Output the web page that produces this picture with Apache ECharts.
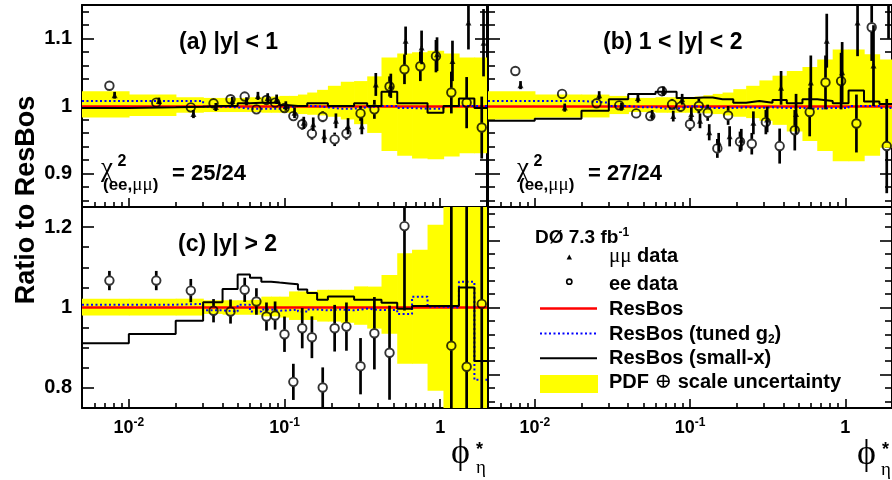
<!DOCTYPE html>
<html><head><meta charset="utf-8">
<script src="https://cdn.jsdelivr.net/npm/echarts@6/dist/echarts.min.js"></script>
<style>html,body{margin:0;padding:0;background:#fff}#c{width:892px;height:480px}</style>
</head><body><div id="c"></div>
<script>
const SANS = '"Liberation Sans", Arial, Helvetica, sans-serif';
const SERIF = '"Liberation Serif", "DejaVu Serif", serif';

// ---------------- axis ranges and ticks ----------------
const xMin = 0.005, xMax = 2;
const xMajor = [0.01, 0.1, 1];
const xMajorLabels = [['10', '-2'], ['10', '-1'], ['1', '']];
const xMinor = [0.006, 0.007, 0.008, 0.009, 0.02, 0.03, 0.04, 0.05, 0.06, 0.07, 0.08, 0.09,
                0.2, 0.3, 0.4, 0.5, 0.6, 0.7, 0.8, 0.9, 2];
const topRange = [0.85, 1.15];
const topMajor = [0.9, 1, 1.1];
const topMajorLabels = ['0.9', '1', '1.1'];
const topMinor = [0.86, 0.88, 0.92, 0.94, 0.96, 0.98, 1.02, 1.04, 1.06, 1.08, 1.12, 1.14];
const botRange = [0.75, 1.25];
const botMajor = [0.8, 1, 1.2];
const botMajorLabels = ['0.8', '1', '1.2'];
const botMinor = [0.75, 0.85, 0.9, 0.95, 1.05, 1.1, 1.15, 1.25];

// ---------------- theory bin edges ----------------
const edges = [0.005, 0.01, 0.02, 0.03, 0.04, 0.05, 0.06, 0.071, 0.082, 0.093, 0.107, 0.122, 0.14,
               0.162, 0.19, 0.23, 0.28, 0.34, 0.42, 0.53, 0.66, 0.83, 1.05, 1.32, 1.66, 2.0];
const resbosRatio = 1;

// ---------------- data x positions ----------------
const phiEe = [0.0075, 0.015, 0.025, 0.035, 0.045, 0.0555, 0.066, 0.0766, 0.087, 0.1, 0.114, 0.13, 0.15,
               0.176, 0.21, 0.25, 0.308, 0.378, 0.473, 0.59, 0.746, 0.94, 1.18, 1.48, 1.85];
const phiMm = [0.0081, 0.0156, 0.026, 0.0362, 0.0462, 0.057, 0.0675, 0.078, 0.089, 0.102, 0.116, 0.133, 0.153,
               0.18, 0.214, 0.256, 0.314, 0.386, 0.482, 0.6, 0.76, 0.955, 1.2, 1.52, 1.9];

// ---------------- panel (a) |y|<1 ----------------
const aEe = [1.030, 1.005, 0.998, 1.004, 1.010, 1.014, 0.995, 1.009, 1.005, 0.997, 0.985, 0.973, 0.959,
             0.984, 0.9505, 0.959, 0.989, 0.995, 1.029, 1.0545, 1.059, 1.074, 1.020, 1.005, 0.968];
const aEeErr = [0.004, 0.004, 0.005, 0.005, 0.005, 0.005, 0.005, 0.005, 0.006, 0.006, 0.007, 0.008, 0.009,
                0.008, 0.010, 0.009, 0.011, 0.014, 0.015, 0.022, 0.022, 0.024, 0.031, 0.038, 0.046];
const aMm = [1.016, 1.0075, 0.988, 0.9985, 1.0075, 1.007, 1.015, 1.012, 1.010, 1.0, 0.990, 0.975, 0.973,
             0.955, 0.978, 0.970, 0.970, 1.032, 1.030, 1.097, 1.087, 1.077, 1.067, 1.124, 1.094];
const aMmErr = [0.005, 0.005, 0.006, 0.006, 0.006, 0.006, 0.006, 0.007, 0.007, 0.007, 0.008, 0.009, 0.010,
                0.010, 0.011, 0.012, 0.012, 0.017, 0.018, 0.021, 0.025, 0.025, 0.030, 0.040, 0.050];
const aBandLo = [0.983, 0.985, 0.990, 0.991, 0.991, 0.991, 0.991, 0.990, 0.990, 0.990, 0.990, 0.988, 0.987,
                 0.986, 0.984, 0.980, 0.973, 0.960, 0.933, 0.926, 0.922, 0.921, 0.925, 0.930, 0.930];
const aBandHi = [1.022, 1.017, 1.013, 1.012, 1.012, 1.012, 1.013, 1.013, 1.014, 1.015, 1.015, 1.017, 1.020,
                 1.024, 1.030, 1.036, 1.037, 1.044, 1.072, 1.078, 1.080, 1.082, 1.078, 1.072, 1.072];
const aSmallX = [0.997, 0.998, 0.999, 1.0, 1.0, 1.004, 1.005, 1.005, 1.005, 1.001, 1.0, 1.0, 1.004,
                 1.004, 1.0, 1.0, 1.004, 1.0, 1.021, 1.004, 1.004, 0.990, 1.0, 1.011, 0.997];
const aTuned = [1.0075, 1.0075, 1.0075, 0.999, 0.998, 0.996, 0.996, 0.996, 0.996, 0.998, 1.0, 1.0, 1.0,
                0.998, 0.996, 0.996, 0.998, 1.0, 1.0, 0.997, 0.996, 0.996, 1.0, 1.0, 1.0];

// ---------------- panel (b) 1<|y|<2 ----------------
const bEe = [1.052, 1.018, 1.004, 1.001, 0.989, 0.985, 1.022, 1.0025, 0.999, 0.973, 1.0, 0.990, 0.937,
             0.986, 0.947, 0.944, 0.976, 0.9405, 0.964, 0.991, 1.035, 1.037, 0.974, 1.117, 0.9405];
const bEeErr = [0.005, 0.005, 0.005, 0.006, 0.006, 0.007, 0.007, 0.008, 0.008, 0.010, 0.011, 0.012, 0.014,
                0.014, 0.015, 0.016, 0.018, 0.026, 0.030, 0.036, 0.040, 0.042, 0.043, 0.050, 0.070];
const bMm = [1.031, 0.9976, 1.016, 0.999, 1.012, 0.987, 1.022, 0.985, 1.010, 0.988, 0.978, 0.961, 0.946,
             0.955, 0.950, 0.975, 0.980, 1.027, 0.988, 1.035, 1.097, 1.050, 1.124, 1.060, 1.170];
const bMmErr = [0.006, 0.006, 0.006, 0.006, 0.007, 0.007, 0.007, 0.008, 0.008, 0.010, 0.011, 0.012, 0.014,
                0.015, 0.016, 0.017, 0.019, 0.025, 0.030, 0.040, 0.040, 0.045, 0.050, 0.060, 0.070];
const bBandLo = [0.980, 0.983, 0.983, 0.988, 0.991, 0.991, 0.990, 0.990, 0.990, 0.990, 0.990, 0.989, 0.988,
                 0.986, 0.984, 0.982, 0.978, 0.972, 0.962, 0.948, 0.933, 0.918, 0.918, 0.926, 0.938];
const bBandHi = [1.022, 1.017, 1.017, 1.015, 1.012, 1.012, 1.013, 1.013, 1.013, 1.013, 1.014, 1.016, 1.018,
                 1.020, 1.025, 1.030, 1.038, 1.045, 1.052, 1.058, 1.069, 1.084, 1.084, 1.077, 1.069];
const bSmallX = [0.978, 0.981, 0.993, 1.010, 1.018, 1.018, 1.021, 1.021, 1.012, 1.012, 1.0125, 1.0125, 1.010,
                 1.010, 1.005, 1.0075, 1.005, 1.009, 1.004, 1.010, 1.0075, 1.004, 1.023, 1.0065, 1.003];
const bTuned = [1.0075, 1.0075, 1.005, 1.0, 0.998, 0.998, 0.996, 0.996, 0.998, 1.0, 0.998, 0.997, 0.997,
                0.997, 0.998, 0.997, 0.998, 0.997, 0.997, 0.996, 0.997, 0.997, 1.0, 1.0, 0.997];

// ---------------- panel (c) |y|>2 ----------------
const cEe = [1.067, 1.067, 1.042, 0.992, 0.990, 1.044, 1.015, 0.9775, 0.980, 0.9335, 0.815, 0.9485, 0.926,
             0.801, 0.9485, 0.9525, 0.854, 0.936, 0.8875, 1.2025, null, null, 0.905, 0.8525, 1.009];
const cEeErr = [0.024, 0.024, 0.029, 0.029, 0.030, 0.030, 0.033, 0.035, 0.035, 0.044, 0.045, 0.050, 0.052,
                0.050, 0.058, 0.060, 0.070, 0.090, 0.117, 0.210, null, null, 0.500, 0.500, 0.500];
const cBandLo = [0.980, 0.980, 0.980, 0.984, 0.982, 0.982, 0.982, 0.978, 0.978, 0.975, 0.969, 0.969, 0.969,
                 0.965, 0.965, 0.962, 0.957, 0.9475, 0.935, 0.860, 0.860, 0.793, 0.70, 0.70, 0.70];
const cBandHi = [1.022, 1.022, 1.022, 1.018, 1.018, 1.018, 1.019, 1.027, 1.027, 1.027, 1.040, 1.040, 1.040,
                 1.044, 1.044, 1.044, 1.0525, 1.052, 1.081, 1.135, 1.1435, 1.206, 1.30, 1.30, 1.30];
const cSmallX = [0.911, 0.934, 0.967, 1.013, 1.046, 1.082, 1.074, 1.064, 1.062, 1.060, 1.058, 1.045, 1.036,
                 1.019, 1.0275, 1.0275, 1.019, 1.019, 1.012, 0.997, 1.004, 1.004, 1.004, 1.050, 0.867];
const cTuned = [1.007, 1.007, 1.009, 0.993, 0.990, 1.007, 0.990, 0.995, 0.992, 0.993, 0.995, 0.990, 0.995,
                0.993, 0.995, 0.993, 0.997, 0.9935, 0.9935, 0.984, 1.027, 1.002, 1.0, 1.064, 0.820];

// ---------------- builders ----------------
function stepData(vals) {
  const d = vals.map((v, i) => [edges[i], v]);
  d.push([edges[edges.length - 1], vals[vals.length - 1]]);
  return d;
}
function bandData(lo, hi) { return lo.map((l, i) => [edges[i], edges[i + 1], l, hi[i]]); }
function pts(x, y, e) {
  const d = [];
  x.forEach((xi, i) => { if (y[i] != null) d.push([xi, y[i], e[i]]); });
  return d;
}
function renderBand(params, api) {
  const a = api.coord([api.value(0), api.value(3)]);
  const b = api.coord([api.value(1), api.value(2)]);
  return { type: 'rect', shape: { x: a[0], y: a[1], width: b[0] - a[0] + 0.7, height: b[1] - a[1] },
           style: { fill: '#ffff00' } };
}
function makeErr(gap) {
  return function (params, api) {
    const x = api.value(0), y = api.value(1), e = api.value(2);
    const c = api.coord([x, y]), t = api.coord([x, y + e]), b = api.coord([x, y - e]);
    const st = { stroke: '#000', lineWidth: 2.7 };
    const ch = [];
    if (t[1] < c[1] - gap) ch.push({ type: 'line', shape: { x1: c[0], y1: t[1], x2: c[0], y2: c[1] - gap }, style: st });
    if (b[1] > c[1] + gap) ch.push({ type: 'line', shape: { x1: c[0], y1: c[1] + gap, x2: c[0], y2: b[1] }, style: st });
    return { type: 'group', children: ch };
  };
}

const grids = [
  { left: 82, top: 5, width: 405, height: 202 },
  { left: 488, top: 5, width: 404, height: 202 },
  { left: 82, top: 207, width: 405, height: 201 },
  { left: 488, top: 207, width: 404, height: 201 }
];

function xAxesFor(g, showLabels) {
  const base = { type: 'log', logBase: 10, min: xMin, max: xMax, gridIndex: g, splitLine: { show: false } };
  const tk = (vals, len) => ({ show: true, inside: true, length: len, customValues: vals, lineStyle: { color: '#000', width: 1.6 } });
  return [
    Object.assign({}, base, { position: 'bottom',
      axisLine: { show: true, onZero: false, lineStyle: { color: '#000', width: 2 } },
      axisTick: tk(xMajor, 9),
      axisLabel: { show: showLabels, customValues: xMajor, margin: 9,
        formatter: function (v) {
          let k = 0, best = 1e9;
          xMajor.forEach((m, i) => { const d = Math.abs(Math.log10(m) - Math.log10(v)); if (d < best) { best = d; k = i; } });
          const L = xMajorLabels[k];
          return L[1] ? '{b|' + L[0] + '}{s|' + L[1] + '}' : '{b|' + L[0] + '}';
        },
        rich: {
          b: { fontFamily: SANS, fontWeight: 'bold', fontSize: 18, lineHeight: 23, color: '#000' },
          s: { fontFamily: SANS, fontWeight: 'bold', fontSize: 12, lineHeight: 10, verticalAlign: 'top', color: '#000' }
        } } }),
    Object.assign({}, base, { position: 'bottom', axisLine: { show: false, onZero: false },
      axisTick: tk(xMinor, 5), axisLabel: { show: false } }),
    Object.assign({}, base, { position: 'top',
      axisLine: { show: true, onZero: false, lineStyle: { color: '#000', width: 2 } },
      axisTick: { show: false }, axisLabel: { show: false } })
  ];
}
function yAxesFor(g, rng, major, majorLabels, minor, showLabels) {
  const base = { type: 'value', min: rng[0], max: rng[1], gridIndex: g, splitLine: { show: false } };
  const line = { show: true, onZero: false, lineStyle: { color: '#000', width: 2 } };
  const tk = (vals, len) => ({ show: true, inside: true, length: len, customValues: vals, lineStyle: { color: '#000', width: 1.6 } });
  return [
    Object.assign({}, base, { position: 'left', axisLine: line, axisTick: tk(major, 12),
      axisLabel: showLabels ? { show: true, customValues: major, margin: 10, color: '#000',
        fontFamily: SANS, fontWeight: 'bold', fontSize: 20,
        formatter: function (v) {
          let k = 0, best = 1e9;
          major.forEach((m, i) => { const d = Math.abs(m - v); if (d < best) { best = d; k = i; } });
          return majorLabels[k];
        } } : { show: false } }),
    Object.assign({}, base, { position: 'left', axisLine: { show: false, onZero: false }, axisTick: tk(minor, 7), axisLabel: { show: false } }),
    Object.assign({}, base, { position: 'right', axisLine: line, axisTick: tk(major, 12), axisLabel: { show: false } }),
    Object.assign({}, base, { position: 'right', axisLine: { show: false, onZero: false }, axisTick: tk(minor, 7), axisLabel: { show: false } })
  ];
}

function panelSeries(g, p) {
  const xi = g * 3, yi = g * 4;
  const s = [];
  s.push({ type: 'custom', xAxisIndex: xi, yAxisIndex: yi, clip: true, z: 1, silent: true,
    renderItem: renderBand, encode: { x: [0, 1], y: [2, 3] }, data: bandData(p.lo, p.hi) });
  s.push({ type: 'line', xAxisIndex: xi, yAxisIndex: yi, step: 'end', data: stepData(p.tuned), symbol: 'none',
    clip: true, z: 4, silent: true, lineStyle: { color: '#0000ff', width: 2, type: [2, 2.5] },
    markLine: { silent: true, symbol: 'none', z: 3, label: { show: false },
      lineStyle: { color: '#ff0000', width: 2.6, type: 'solid' }, data: [{ yAxis: resbosRatio }] } });
  s.push({ type: 'line', xAxisIndex: xi, yAxisIndex: yi, step: 'end', data: stepData(p.small), symbol: 'none',
    clip: true, z: 5, silent: true, lineStyle: { color: '#000', width: 2 } });
  if (p.mm) {
    const d = pts(phiMm, p.mm, p.mmErr);
    s.push({ type: 'custom', xAxisIndex: xi, yAxisIndex: yi, clip: true, z: 7, silent: true,
      renderItem: makeErr(0), encode: { x: 0, y: 1 }, data: d });
    s.push({ type: 'scatter', xAxisIndex: xi, yAxisIndex: yi, clip: true, z: 8, silent: true,
      symbol: 'triangle', symbolSize: [6, 6], itemStyle: { color: '#000' }, data: d.map(r => [r[0], r[1]]) });
  }
  const de = pts(phiEe, p.ee, p.eeErr);
  s.push({ type: 'custom', xAxisIndex: xi, yAxisIndex: yi, clip: true, z: 7, silent: true,
    renderItem: makeErr(4.8), encode: { x: 0, y: 1 }, data: de });
  s.push({ type: 'scatter', xAxisIndex: xi, yAxisIndex: yi, clip: true, z: 9, silent: true,
    symbol: 'circle', symbolSize: 8.5, itemStyle: { color: 'rgba(0,0,0,0)', borderColor: '#000', borderWidth: 1.9 },
    data: de.map(r => [r[0], r[1]]) });
  return s;
}

const xAxis = [].concat(xAxesFor(0, false), xAxesFor(1, false), xAxesFor(2, true), xAxesFor(3, true));
const yAxis = [].concat(
  yAxesFor(0, topRange, topMajor, topMajorLabels, topMinor, true),
  yAxesFor(1, topRange, topMajor, topMajorLabels, topMinor, false),
  yAxesFor(2, botRange, botMajor, botMajorLabels, botMinor, true),
  yAxesFor(3, topRange, topMajor, topMajorLabels, topMinor, false));

const series = [].concat(
  panelSeries(0, { lo: aBandLo, hi: aBandHi, tuned: aTuned, small: aSmallX, ee: aEe, eeErr: aEeErr, mm: aMm, mmErr: aMmErr }),
  panelSeries(1, { lo: bBandLo, hi: bBandHi, tuned: bTuned, small: bSmallX, ee: bEe, eeErr: bEeErr, mm: bMm, mmErr: bMmErr }),
  panelSeries(2, { lo: cBandLo, hi: cBandHi, tuned: cTuned, small: cSmallX, ee: cEe, eeErr: cEeErr })
);

// ---------------- text & legend ----------------
function T(x, y, text, font, extra) {
  return Object.assign({ type: 'text', x: x, y: y, z: 50, silent: true,
    style: Object.assign({ text: text, font: font, fill: '#000', align: 'left', verticalAlign: 'middle',
      textAlign: 'left', textVerticalAlign: 'middle' }, extra || {}) });
}
const bold = s => 'bold ' + s + 'px ' + SANS;
const subRich = {
  p: { fontFamily: SANS, fontWeight: 'bold', fontSize: 17 },
  m: { fontFamily: SERIF, fontSize: 19 }
};
function chi2(x0, txt) {
  return [
    T(x0, 169, 'χ', '27px ' + SERIF),
    T(x0 + 16.5, 162, '2', bold(16)),
    T(x0 + 2, 185, '{p|(ee,}{m|μμ}{p|)}', bold(17), { rich: subRich }),
    T(x0 + 71, 174, txt, bold(22))
  ];
}
const legendRows = [
  { y: 256, text: '{g|μμ}{b| data}' },
  { y: 284, text: '{b|ee data}' },
  { y: 309, text: '{b|ResBos}' },
  { y: 334, text: '{b|ResBos (tuned g}{sub|2}{b|)}' },
  { y: 358.5, text: '{b|ResBos (small-x)}' },
  { y: 382, text: '{b|PDF }{g|⊕}{b| scale uncertainty}' }
];
const legendRich = {
  b: { fontFamily: SANS, fontWeight: 'bold', fontSize: 20, lineHeight: 24 },
  g: { fontFamily: SERIF, fontSize: 21, lineHeight: 24 },
  sub: { fontFamily: SANS, fontWeight: 'bold', fontSize: 12, lineHeight: 10, verticalAlign: 'bottom' }
};

const graphic = [].concat(
  [
    T(179, 43, '(a) |y| < 1', bold(23)),
    T(603, 43, '(b) 1 < |y| < 2', bold(23)),
    T(178, 245, '(c) |y| > 2', bold(23)),
    Object.assign(T(27, 200, 'Ratio to ResBos', bold(27), { align: 'center', textAlign: 'center' }), { rotation: Math.PI / 2 }),
    T(535, 238, '{t|DØ 7.3 fb}{s|-1}', bold(19), { rich: {
      t: { fontFamily: SANS, fontWeight: 'bold', fontSize: 19, lineHeight: 22 },
      s: { fontFamily: SANS, fontWeight: 'bold', fontSize: 12, lineHeight: 10, verticalAlign: 'top' } } }),
    T(451, 454, 'ϕ', '36px ' + SERIF),
    T(476, 450, '*', bold(18)),
    T(476, 468, 'η', '19px ' + SERIF),
    T(857, 455, 'ϕ', '36px ' + SERIF),
    T(882, 450, '*', bold(18)),
    T(881, 470, 'η', '19px ' + SERIF),
    { type: 'polygon', z: 50, silent: true, shape: { points: [[569.3, 254.5], [566.6, 259.5], [572, 259.5]] }, style: { fill: '#000' } },
    { type: 'circle', z: 50, silent: true, shape: { cx: 569.3, cy: 281.7, r: 2.6 }, style: { fill: 'none', stroke: '#000', lineWidth: 1.6 } },
    { type: 'line', z: 50, silent: true, shape: { x1: 540, y1: 308.5, x2: 597, y2: 308.5 }, style: { stroke: '#ff0000', lineWidth: 2.5 } },
    { type: 'line', z: 50, silent: true, shape: { x1: 540, y1: 333.5, x2: 597, y2: 333.5 }, style: { stroke: '#0000ff', lineWidth: 2, lineDash: [2, 2.5] } },
    { type: 'line', z: 50, silent: true, shape: { x1: 540, y1: 358.3, x2: 597, y2: 358.3 }, style: { stroke: '#000', lineWidth: 2 } },
    { type: 'rect', z: 50, silent: true, shape: { x: 540, y: 375, width: 58, height: 18 }, style: { fill: '#ffff00' } }
  ],
  chi2(101, '= 25/24'),
  chi2(517, '= 27/24'),
  legendRows.map(r => T(609, r.y, r.text, bold(20), { rich: legendRich }))
);

const chart = echarts.init(document.getElementById('c'), null, { renderer: 'canvas', width: 892, height: 480 });
chart.setOption({
  animation: false,
  backgroundColor: '#fff',
  textStyle: { fontFamily: SANS },
  grid: grids,
  xAxis: xAxis,
  yAxis: yAxis,
  series: series,
  graphic: graphic
});
</script>
</body></html>
